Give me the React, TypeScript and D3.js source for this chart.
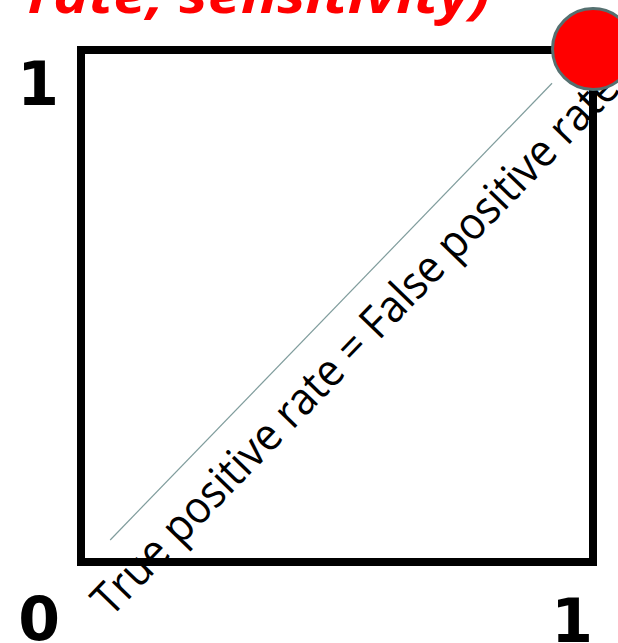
import React from "react";
import * as d3 from "d3";

const WIDTH = 618;
const HEIGHT = 643;

// data
const axisDomain: [number, number] = [0, 1];
const cornerLabels = [
  { label: "0", x: 0, y: 0 },
  { label: "1", x: 1, y: 0 },
  { label: "1", x: 0, y: 1 },
];
const diagonalPoints: [number, number][] = [
  [0.057, 0.043],
  [0.92, 0.935],
];
const highlightPoint = { x: 1, y: 1 };
const diagonalLabel = "True positive rate = False positive rate";
const titleText = "rate, sensitivity)";

export default function App() {
  const x = d3.scaleLinear().domain(axisDomain).range([81, 593]);
  const y = d3.scaleLinear().domain(axisDomain).range([562, 50]);

  const line = d3
    .line<[number, number]>()
    .x((d) => x(d[0]))
    .y((d) => y(d[1]));

  const [p0, p1] = diagonalPoints;
  const angle =
    (Math.atan2(y(p1[1]) - y(p0[1]), x(p1[0]) - x(p0[0])) * 180) / Math.PI;

  const labelPos = (l: { label: string; x: number; y: number }) => {
    if (l.x === 0 && l.y === 1) return { px: x(0) - 43, py: y(1) + 55 };
    if (l.x === 0 && l.y === 0) return { px: x(0) - 42, py: y(0) + 78 };
    return { px: x(1) - 21, py: y(0) + 80 };
  };

  // text anchor: start of diagonal label baseline
  const tx = x(0.058);
  const ty = y(-0.11);

  return (
    <svg
      width={WIDTH}
      height={HEIGHT}
      style={{ position: "absolute", left: 0, top: 0, background: "#fff" }}
    >
      <text
        x={28}
        y={13}
        fill="#ff0000"
        fontFamily="'Open Sans', sans-serif"
        fontWeight="bold"
        fontStyle="italic"
        fontSize={52}
        textLength={462}
        lengthAdjust="spacingAndGlyphs"
      >
        {titleText}
      </text>
      <rect
        x={x(0)}
        y={y(1)}
        width={x(1) - x(0)}
        height={y(0) - y(1)}
        fill="none"
        stroke="#000"
        strokeWidth={8}
      />
      <path
        d={line(diagonalPoints) || ""}
        fill="none"
        stroke="#7f9c9c"
        strokeWidth={1.2}
      />
      <text
        transform={`translate(${tx},${ty}) rotate(${angle})`}
        fontFamily="'Open Sans', sans-serif"
        fontSize={45}
        fill="#000"
        textLength={735}
        lengthAdjust="spacingAndGlyphs"
      >
        {diagonalLabel}
      </text>
      <circle
        cx={x(highlightPoint.x)}
        cy={y(highlightPoint.y) - 1}
        r={40.5}
        fill="#ff0000"
        stroke="#557070"
        strokeWidth={3}
      />
      {cornerLabels.map((l, i) => {
        const { px, py } = labelPos(l);
        return (
          <text
            key={i}
            x={px}
            y={py}
            textAnchor="middle"
            fontFamily="'DejaVu Sans', sans-serif"
            fontWeight="bold"
            fontSize={60}
            fill="#000"
          >
            {l.label}
          </text>
        );
      })}
    </svg>
  );
}
